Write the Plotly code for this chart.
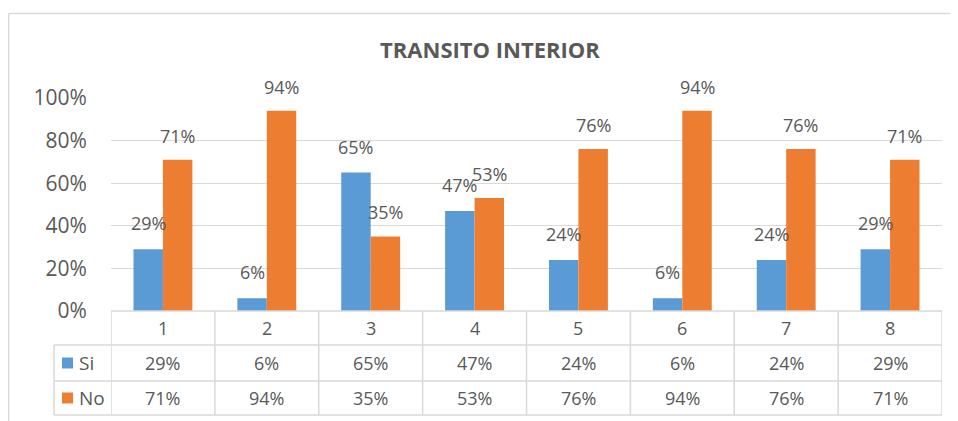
import plotly.graph_objects as go

categories = [1, 2, 3, 4, 5, 6, 7, 8]
si_values = [0.29, 0.06, 0.65, 0.47, 0.24, 0.06, 0.24, 0.29]
no_values = [0.71, 0.94, 0.35, 0.53, 0.76, 0.94, 0.76, 0.71]
series_names = ["Si", "No"]
title_text = "TRANSITO INTERIOR"
ytick_vals = [0, 0.2, 0.4, 0.6, 0.8, 1.0]
ytick_text = ["0%", "20%", "40%", "60%", "80%", "100%"]

W, H = 958, 421
OFF = 8  # page body margin
ML, MT = 111 - OFF, 98 - OFF
MR = W - (942 - OFF)
MB = H - (311 - OFF)
PW = W - ML - MR
PH = H - MT - MB
BLUE = "#5B9BD5"
ORANGE = "#ED7D31"
GRID = "#D9D9D9"
TXT = "#595959"
FONT = "Open Sans"


def py(p):  # screenshot pixel y -> paper y
    return (H - MB - (p - OFF)) / PH


def px(p):  # screenshot pixel x -> paper x
    return ((p - OFF) - ML) / PW


fig = go.Figure()
fig.add_trace(go.Bar(x=categories, y=si_values, name=series_names[0],
                     marker=dict(color=BLUE, line=dict(width=0))))
fig.add_trace(go.Bar(x=categories, y=no_values, name=series_names[1],
                     marker=dict(color=ORANGE, line=dict(width=0))))

ann = []
shapes = []
half = PW / len(categories) * (1 - 0.433) / 4  # bar center offset in px

for c, s, n in zip(categories, si_values, no_values):
    ann.append(dict(x=c, y=s, xref="x", yref="y", text=f"{round(s*100)}%",
                    showarrow=False, xshift=-half, yanchor="bottom", yshift=12,
                    font=dict(size=18, color=TXT, family=FONT)))
    ann.append(dict(x=c, y=n, xref="x", yref="y", text=f"{round(n*100)}%",
                    showarrow=False, xshift=half, yanchor="bottom", yshift=10,
                    font=dict(size=18, color=TXT, family=FONT)))
    # table texts
    for yc, t in [(328, str(c)), (363, f"{round(s*100)}%"), (398, f"{round(n*100)}%")]:
        ann.append(dict(x=c, y=py(yc), xref="x", yref="paper", text=t,
                        xanchor="center", yanchor="middle", showarrow=False,
                        font=dict(size=18, color=TXT, family=FONT)))

LW = 1.5
# table vertical lines
for i in range(len(categories) + 1):
    xv = 0.5 + i
    shapes.append(dict(type="line", xref="x", yref="paper", x0=xv, x1=xv,
                       y0=py(311), y1=py(415), line=dict(color=GRID, width=LW)))
# legend column left line
shapes.append(dict(type="line", xref="paper", yref="paper", x0=px(54), x1=px(54),
                   y0=py(345), y1=py(415), line=dict(color=GRID, width=LW)))
# table horizontal lines
shapes.append(dict(type="line", xref="paper", yref="paper", x0=0, x1=1,
                   y0=py(311), y1=py(311), line=dict(color=GRID, width=LW)))
for yy in [345, 381, 415]:
    shapes.append(dict(type="line", xref="paper", yref="paper", x0=px(54), x1=1,
                       y0=py(yy), y1=py(yy), line=dict(color=GRID, width=LW)))
# legend keys
for name, color, yc in [(series_names[0], BLUE, 363), (series_names[1], ORANGE, 398)]:
    shapes.append(dict(type="rect", xref="paper", yref="paper", x0=px(62), x1=px(73),
                       y0=py(yc - 5.5), y1=py(yc + 5.5), fillcolor=color, line=dict(width=0)))
    ann.append(dict(x=px(77), y=py(yc), xref="paper", yref="paper", text=name,
                    xanchor="left", yanchor="middle", showarrow=False,
                    font=dict(size=19, color=TXT, family=FONT)))
# outer chart border (top and left)
shapes.append(dict(type="line", xref="paper", yref="paper", x0=px(8.5), x1=px(970),
                   y0=py(13.5), y1=py(13.5), line=dict(color=GRID, width=1.5)))
shapes.append(dict(type="line", xref="paper", yref="paper", x0=px(8.5), x1=px(8.5),
                   y0=py(13.5), y1=py(440), line=dict(color=GRID, width=1.5)))

fig.update_layout(
    width=W, height=H,
    margin=dict(l=ML, r=MR, t=MT, b=MB),
    paper_bgcolor="white", plot_bgcolor="white",
    barmode="group", bargap=0.433, bargroupgap=0,
    showlegend=False,
    title=dict(text=f"<b>{title_text}</b>", x=(490 - OFF) / W, xref="container",
               xanchor="center", y=1 - (50 - OFF) / H, yanchor="middle",
               font=dict(size=22, color=TXT, family=FONT)),
    xaxis=dict(range=[0.5, 8.5], showticklabels=False, showgrid=False,
               zeroline=False, showline=False),
    yaxis=dict(range=[0, 1], tickvals=ytick_vals, ticktext=ytick_text,
               showgrid=True, gridcolor=GRID, gridwidth=1.3, zeroline=False,
               showline=False, ticks="outside", ticklen=19, tickcolor="rgba(0,0,0,0)",
               tickfont=dict(size=21, color=TXT, family=FONT)),
    annotations=ann, shapes=shapes,
)

fig.write_html("out.html")
